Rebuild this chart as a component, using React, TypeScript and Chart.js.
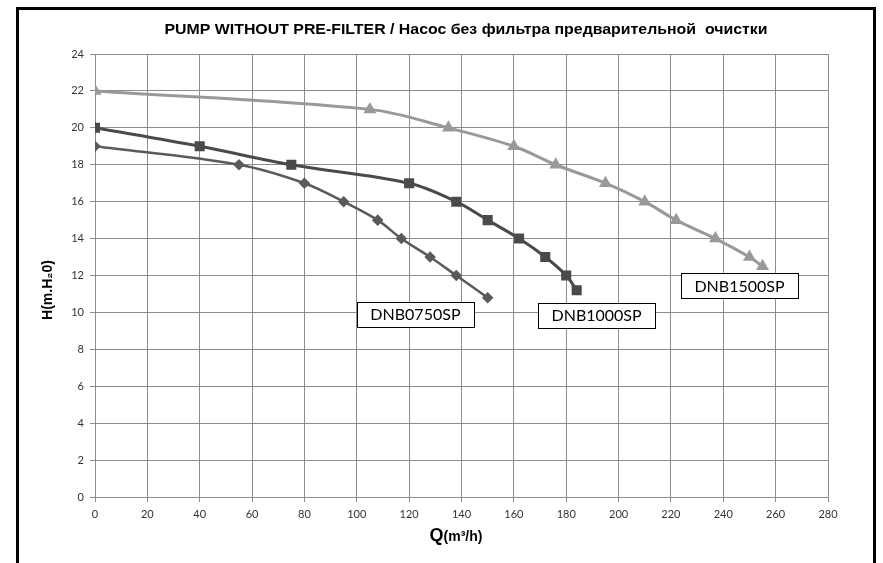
import React, { useEffect, useRef } from "react";
import { Chart, registerables } from "chart.js";

Chart.register(...registerables);

const TITLE = "PUMP WITHOUT PRE-FILTER / Насос без фильтра предварительной  очистки";

const q0750 = [0, 55, 80, 95, 108, 117, 128, 138, 150];
const h0750 = [19, 18, 17, 16, 15, 14, 13, 12, 10.8];

const q1000 = [0, 40, 75, 120, 138, 150, 162, 172, 180, 184];
const h1000 = [20, 19, 18, 17, 16, 15, 14, 13, 12, 11.2];

const q1500 = [0, 105, 135, 160, 176, 195, 210, 222, 237, 250, 255];
const h1500 = [22, 21, 20, 19, 18, 17, 16, 15, 14, 13, 12.5];

const seriesNames = ["DNB0750SP", "DNB1000SP", "DNB1500SP"];
// label anchor in data coordinates (Q, H)
const labelQ = [122.4, 191.6, 246.2];
const labelH = [9.9, 9.85, 11.45];

const toPts = (q: number[], h: number[]) => q.map((x, i) => ({ x, y: h[i] }));

const W = 883;
const H = 563;
const PL = 95;
const PT = 54;
const PR = 828;
const PB = 497;

const decor = {
  id: "decor",
  beforeDraw(chart: any) {
    const ctx = chart.ctx;
    ctx.save();
    ctx.fillStyle = "#ffffff";
    ctx.fillRect(0, 0, W, H);
    ctx.strokeStyle = "#000";
    ctx.lineWidth = 3;
    ctx.strokeRect(17.5, 8.5, 857, 620);
    ctx.restore();
  },
  afterDraw(chart: any) {
    const ctx = chart.ctx;
    const xs = chart.scales.x;
    const ys = chart.scales.y;
    ctx.save();
    // title (fitted to the reference width)
    ctx.fillStyle = "#000";
    ctx.textAlign = "center";
    ctx.textBaseline = "middle";
    ctx.font = "bold 15px 'Liberation Sans', Arial, sans-serif";
    const tw = ctx.measureText(TITLE).width;
    const sx = 603 / tw;
    ctx.save();
    ctx.translate(466, 30);
    ctx.scale(sx, 1);
    ctx.fillText(TITLE, 0, 0);
    ctx.restore();
    // y title
    ctx.save();
    ctx.translate(48, 290);
    ctx.rotate(-Math.PI / 2);
    ctx.font = "bold 14px 'Liberation Sans', Arial, sans-serif";
    ctx.textAlign = "center";
    ctx.fillText("H(m.H₂0)", 0, 0);
    ctx.restore();
    // x title
    ctx.textAlign = "left";
    ctx.font = "bold 18px 'Liberation Sans', Arial, sans-serif";
    const qW = ctx.measureText("Q").width;
    ctx.font = "bold 14px 'Liberation Sans', Arial, sans-serif";
    const rW = ctx.measureText("(m³/h)").width;
    const x0 = 456 - (qW + rW) / 2;
    ctx.font = "bold 18px 'Liberation Sans', Arial, sans-serif";
    ctx.textBaseline = "alphabetic";
    ctx.fillText("Q", x0, 541);
    ctx.font = "bold 14px 'Liberation Sans', Arial, sans-serif";
    ctx.fillText("(m³/h)", x0 + qW, 541);
    // labels
    ctx.font = "16px Lato, 'Open Sans', sans-serif";
    ctx.textAlign = "center";
    ctx.textBaseline = "middle";
    for (let i = 0; i < seriesNames.length; i++) {
      const cx = xs.getPixelForValue(labelQ[i]);
      const cy = ys.getPixelForValue(labelH[i]);
      const bw = 117;
      const bh = 25;
      const bx = Math.round(cx - bw / 2) + 0.5;
      const by = Math.round(cy - bh / 2) + 0.5;
      ctx.fillStyle = "#fff";
      ctx.fillRect(bx, by, bw, bh);
      ctx.strokeStyle = "#000";
      ctx.lineWidth = 1;
      ctx.strokeRect(bx, by, bw, bh);
      ctx.fillStyle = "#000";
      ctx.fillText(seriesNames[i], cx, cy + 1);
    }
    ctx.restore();
  },
};

export default function App() {
  const ref = useRef<HTMLCanvasElement>(null);
  useEffect(() => {
    if (!ref.current) return;
    const chart = new Chart(ref.current, {
      type: "scatter",
      data: {
        datasets: [
          {
            label: seriesNames[0],
            data: toPts(q0750, h0750),
            showLine: true,
            borderColor: "#5a5a5a",
            backgroundColor: "#5a5a5a",
            borderWidth: 2.5,
            pointStyle: "rectRot",
            pointRadius: 4,
            tension: 0.35,
          },
          {
            label: seriesNames[1],
            data: toPts(q1000, h1000),
            showLine: true,
            borderColor: "#4a4a4a",
            backgroundColor: "#4a4a4a",
            borderWidth: 3,
            pointStyle: "rect",
            pointRadius: 5,
            tension: 0.35,
          },
          {
            label: seriesNames[2],
            data: toPts(q1500, h1500),
            showLine: true,
            borderColor: "#999999",
            backgroundColor: "#999999",
            borderWidth: 3,
            pointStyle: "triangle",
            pointRadius: 4.5,
            tension: 0.35,
          },
        ],
      },
      options: {
        animation: false,
        responsive: false,
        devicePixelRatio: 1,
        layout: { padding: { left: 0, top: PT, right: W - PR, bottom: 0 } },
        plugins: {
          legend: { display: false },
          title: { display: false },
          tooltip: { enabled: false },
        },
        scales: {
          x: {
            type: "linear",
            min: 0,
            max: 280,
            ticks: {
              stepSize: 20,
              color: "#333",
              font: { family: "Lato, 'Open Sans', sans-serif", size: 11 },
              padding: 6,
            },
            grid: { color: "#8c8c8c", lineWidth: 1, tickLength: 5 },
            border: { color: "#8c8c8c" },
            afterFit: (axis: any) => {
              axis.height = H - PB;
            },
          },
          y: {
            type: "linear",
            min: 0,
            max: 24,
            ticks: {
              stepSize: 2,
              color: "#333",
              font: { family: "Lato, 'Open Sans', sans-serif", size: 11 },
              padding: 6,
            },
            grid: { color: "#8c8c8c", lineWidth: 1, tickLength: 5 },
            border: { color: "#8c8c8c" },
            afterFit: (axis: any) => {
              axis.width = PL;
            },
          },
        },
      },
      plugins: [decor],
    });
    return () => chart.destroy();
  }, []);
  return (
    <div style={{ position: "absolute", left: 0, top: 0, width: W, height: H }}>
      <canvas ref={ref} width={W} height={H} style={{ width: W, height: H, display: "block" }} />
    </div>
  );
}
